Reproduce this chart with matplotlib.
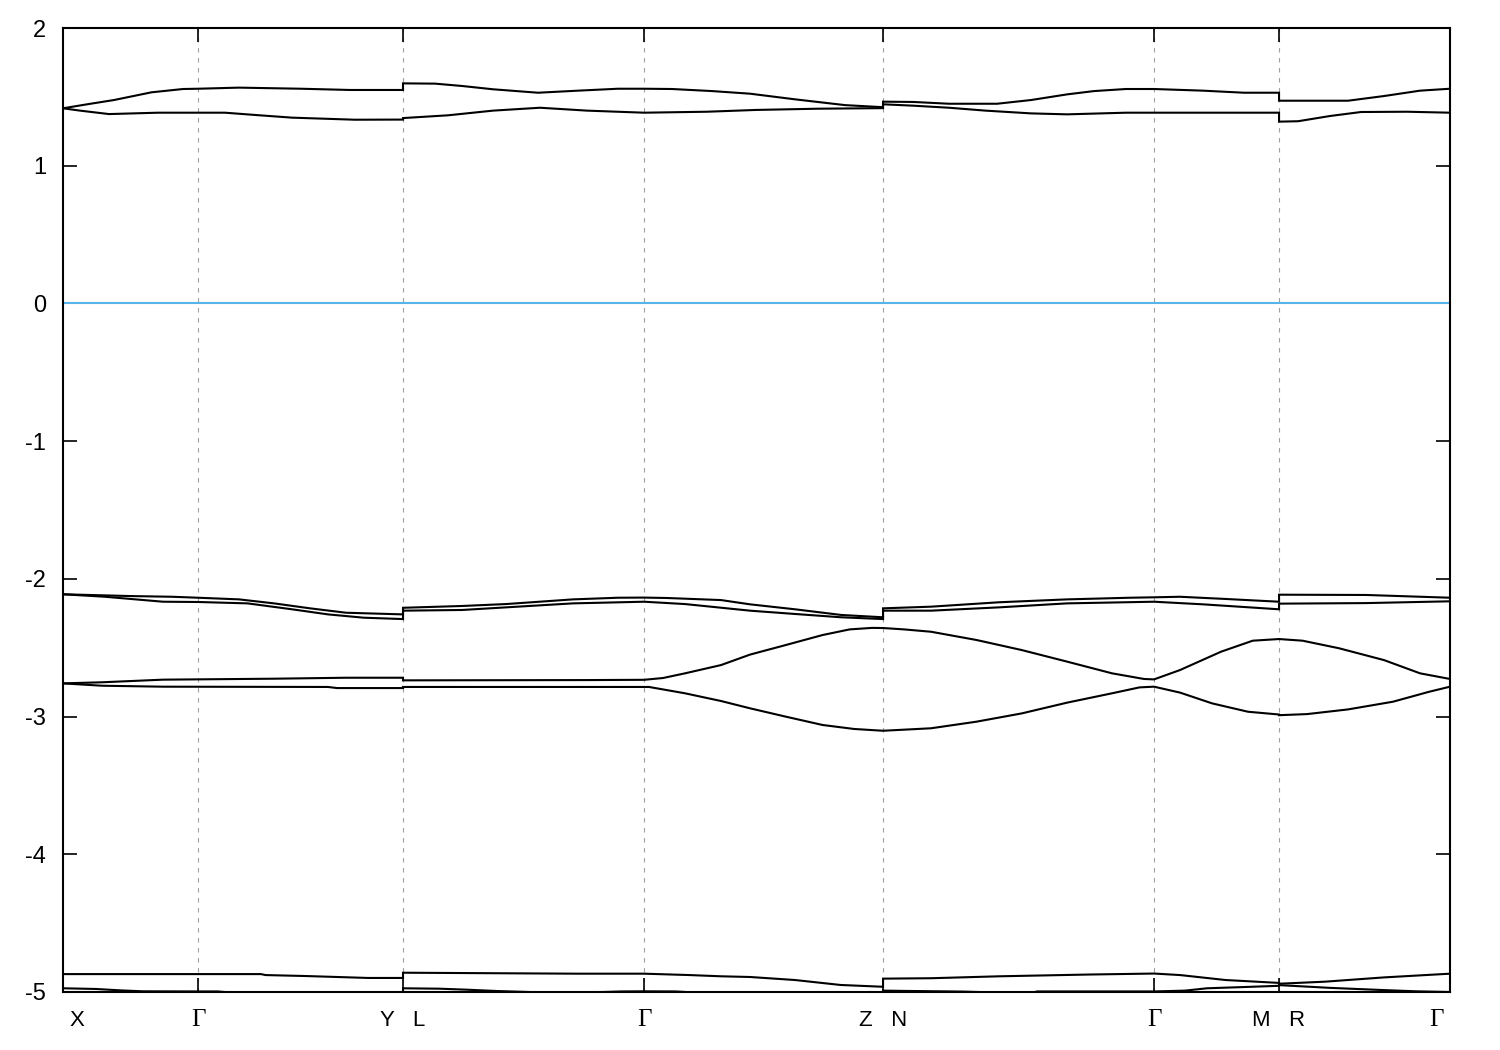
import numpy as np
import matplotlib.pyplot as plt

# high-symmetry points along the path (path length units)
sym_k = [0.0, 0.135, 0.340, 0.581, 0.820, 1.091, 1.216, 1.387]
sym_labels = ['X', 'Γ', 'Y   L', 'Γ', 'Z   N', 'Γ', 'M   R', 'Γ']

# bands: path X-Γ-Y | L-Γ-Z | N-Γ-M | R-Γ (k repeated at the breaks)
band_a_k = [0.0, 0.025, 0.051, 0.0885, 0.120, 0.135, 0.176, 0.238, 0.287, 0.340,
            0.340, 0.372, 0.399, 0.430, 0.475, 0.515, 0.555, 0.581, 0.609, 0.649, 0.687, 0.732, 0.782, 0.820,
            0.820, 0.850, 0.886, 0.934, 0.968, 1.004, 1.031, 1.063, 1.091, 1.140, 1.181, 1.216,
            1.216, 1.285, 1.321, 1.357, 1.387]
band_a_e = [1.417, 1.447, 1.477, 1.533, 1.557, 1.559, 1.567, 1.559, 1.550, 1.550,
            1.598, 1.596, 1.579, 1.555, 1.530, 1.545, 1.559, 1.559, 1.557, 1.542, 1.523, 1.482, 1.440, 1.425,
            1.465, 1.463, 1.450, 1.450, 1.477, 1.518, 1.542, 1.557, 1.557, 1.545, 1.530, 1.530,
            1.472, 1.472, 1.506, 1.545, 1.559]

band_b_k = [0.0, 0.017, 0.046, 0.095, 0.135, 0.162, 0.193, 0.229, 0.292, 0.340,
            0.340, 0.385, 0.430, 0.477, 0.524, 0.581, 0.644, 0.693, 0.755, 0.820,
            0.820, 0.850, 0.886, 0.9225, 0.968, 1.004, 1.063, 1.091, 1.216,
            1.216, 1.235, 1.267, 1.298, 1.344, 1.387]
band_b_e = [1.417, 1.400, 1.375, 1.385, 1.385, 1.385, 1.368, 1.349, 1.334, 1.335,
            1.346, 1.366, 1.400, 1.421, 1.400, 1.385, 1.392, 1.405, 1.414, 1.418,
            1.446, 1.436, 1.421, 1.400, 1.380, 1.373, 1.385, 1.385, 1.385,
            1.320, 1.323, 1.361, 1.390, 1.392, 1.385]

band_c_k = [0.0, 0.068, 0.109, 0.135, 0.176, 0.211, 0.247, 0.283, 0.340,
            0.340, 0.399, 0.443, 0.510, 0.555, 0.581, 0.604, 0.658, 0.687, 0.732, 0.778, 0.820,
            0.820, 0.868, 0.936, 1.004, 1.067, 1.091, 1.117, 1.1625, 1.216,
            1.216, 1.303, 1.387]
band_c_e = [-2.112, -2.125, -2.130, -2.137, -2.149, -2.178, -2.214, -2.246, -2.258,
            -2.210, -2.197, -2.183, -2.149, -2.137, -2.136, -2.139, -2.154, -2.185, -2.221, -2.262, -2.279,
            -2.214, -2.202, -2.170, -2.149, -2.137, -2.134, -2.130, -2.146, -2.166,
            -2.115, -2.117, -2.137]

band_d_k = [0.0, 0.042, 0.100, 0.135, 0.1845, 0.229, 0.265, 0.3006, 0.340,
            0.340, 0.399, 0.443, 0.510, 0.581, 0.622, 0.687, 0.732, 0.778, 0.820,
            0.820, 0.868, 0.936, 1.004, 1.091, 1.140, 1.216,
            1.216, 1.303, 1.387]
band_d_e = [-2.112, -2.130, -2.166, -2.168, -2.178, -2.221, -2.258, -2.282, -2.292,
            -2.231, -2.226, -2.207, -2.178, -2.166, -2.183, -2.231, -2.255, -2.279, -2.292,
            -2.231, -2.231, -2.207, -2.178, -2.166, -2.185, -2.221,
            -2.180, -2.176, -2.163]

band_e_k = [0.0, 0.039, 0.100, 0.211, 0.283, 0.340,
            0.340, 0.524, 0.581, 0.600, 0.622, 0.658, 0.687, 0.723, 0.7595, 0.7866, 0.809, 0.820,
            0.820, 0.841, 0.868, 0.9135, 0.9587, 1.004, 1.049, 1.081, 1.091, 1.117, 1.158, 1.1897, 1.216,
            1.216, 1.2395, 1.276, 1.321, 1.357, 1.387]
band_e_e = [-2.759, -2.751, -2.732, -2.725, -2.718, -2.718,
            -2.737, -2.735, -2.733, -2.720, -2.686, -2.626, -2.550, -2.480, -2.408, -2.367, -2.356, -2.357,
            -2.357, -2.367, -2.384, -2.444, -2.517, -2.601, -2.686, -2.727, -2.730, -2.662, -2.529, -2.449, -2.437,
            -2.437, -2.449, -2.504, -2.590, -2.686, -2.727]

band_f_k = [0.0, 0.039, 0.100, 0.265, 0.274, 0.340,
            0.340, 0.586, 0.622, 0.658, 0.687, 0.723, 0.7595, 0.791, 0.820,
            0.820, 0.868, 0.9135, 0.9587, 1.004, 1.049, 1.0765, 1.091, 1.117, 1.149, 1.185, 1.216,
            1.216, 1.244, 1.285, 1.330, 1.366, 1.387]
band_f_e = [-2.759, -2.776, -2.783, -2.785, -2.793, -2.793,
            -2.785, -2.785, -2.831, -2.887, -2.940, -3.001, -3.061, -3.090, -3.103,
            -3.103, -3.085, -3.037, -2.977, -2.899, -2.831, -2.788, -2.783, -2.826, -2.904, -2.965, -2.985,
            -2.990, -2.982, -2.948, -2.892, -2.820, -2.783]

band_g_k = [0.0, 0.198, 0.2025, 0.2425, 0.274, 0.305, 0.340,
            0.340, 0.515, 0.581, 0.6265, 0.658, 0.687, 0.732, 0.7776, 0.820,
            0.820, 0.868, 0.936, 1.027, 1.091, 1.117, 1.1625, 1.216,
            1.216, 1.262, 1.321, 1.387]
band_g_e = [-4.870, -4.870, -4.877, -4.884, -4.891, -4.898, -4.898,
            -4.860, -4.867, -4.867, -4.877, -4.886, -4.891, -4.913, -4.949, -4.962,
            -4.903, -4.900, -4.886, -4.873, -4.866, -4.877, -4.913, -4.934,
            -4.940, -4.925, -4.894, -4.867]

band_h_k = [0.0, 0.033, 0.057, 0.080, 0.135, 0.155, 0.175, 0.340,
            0.340, 0.3765, 0.403, 0.4345, 0.480, 0.540, 0.558, 0.581, 0.613, 0.630, 0.820,
            0.820, 0.840, 0.900, 0.930, 0.970, 0.974, 1.091, 1.122, 1.144, 1.181, 1.216,
            1.216, 1.267, 1.317, 1.353, 1.387]
band_h_e = [-4.973, -4.978, -4.988, -4.995, -4.996, -4.996, -5.008, -5.010,
            -4.973, -4.976, -4.983, -4.993, -5.003, -5.000, -4.996, -4.995, -4.996, -5.003, -5.012,
            -4.990, -4.992, -4.997, -5.003, -5.003, -4.996, -4.996, -4.990, -4.973, -4.964, -4.955,
            -4.950, -4.970, -4.985, -4.995, -5.000]

bands = [(band_a_k, band_a_e), (band_b_k, band_b_e), (band_c_k, band_c_e),
         (band_d_k, band_d_e), (band_e_k, band_e_e), (band_f_k, band_f_e),
         (band_g_k, band_g_e), (band_h_k, band_h_e)]

fig = plt.figure(figsize=(15, 10.5), dpi=100)
ax = fig.add_axes([0.042, 1 - 992 / 1050, 0.9247, (992 - 28) / 1050])

for k, e in bands:
    ax.plot(k, e, color='black', lw=1.5, solid_joinstyle='miter')

# Fermi level
ax.axhline(0, color='#56b4e9', lw=1.5)

# vertical dashed lines at interior symmetry points
for k in sym_k[1:-1]:
    ax.axvline(k, color='#a0a0a0', lw=0.8, ls=(0, (4, 5)), zorder=0)

ax.set_xlim(sym_k[0], sym_k[-1])
ax.set_ylim(-5, 2)
ax.set_yticks(np.arange(-5, 3, 1))
ax.set_yticklabels([str(v) for v in range(-5, 3)], fontfamily='Liberation Sans', fontsize=17)
ax.tick_params(axis='y', direction='in', length=10, width=1.2, right=True, pad=12)
ax.set_xticks(sym_k)
ax.set_xticklabels([])
ax.tick_params(axis='x', direction='in', length=10, width=1.2, top=True)
for s in ax.spines.values():
    s.set_linewidth(1.5)

# labels under the axis
offsets = [14, 0, 0, 0, 0, 0, 0, -14]
for k, lab, dx in zip(sym_k, sym_labels, offsets):
    fam = 'Liberation Serif' if lab == 'Γ' else 'Liberation Sans'
    size = 18 if lab == 'Γ' else 16
    ax.annotate(lab, xy=(k, 0), xycoords=('data', 'axes fraction'),
                xytext=(dx, -28), textcoords='offset pixels',
                ha='center', va='center', fontsize=size, family=fam)

fig.savefig('out.png', dpi=100)
